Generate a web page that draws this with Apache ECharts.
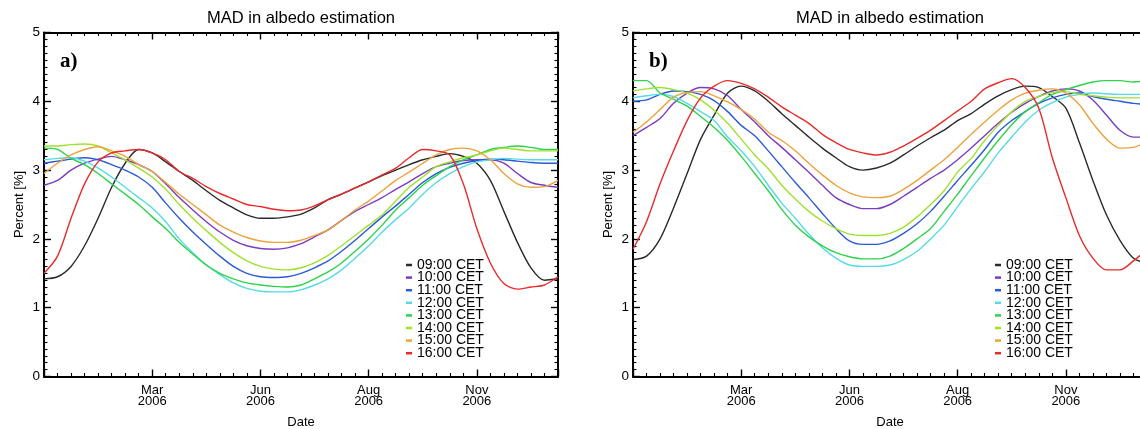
<!DOCTYPE html>
<html><head><meta charset="utf-8">
<script src="https://cdn.jsdelivr.net/npm/echarts@6.0.0/dist/echarts.min.js"></script>
<style>html,body{margin:0;padding:0;background:#fff}#c{width:1140px;height:429px}</style>
</head><body><div id="c"></div>
<script>
// x = days since start of record (axis spans 0..380), sampled every 10 days
const days = [0,10,20,30,40,50,60,70,80,90,100,110,120,130,140,150,160,170,180,190,200,210,220,230,240,250,260,270,280,290,300,310,320,330,340,350,360,370,380];
const hours = ['09:00 CET','10:00 CET','11:00 CET','12:00 CET','13:00 CET','14:00 CET','15:00 CET','16:00 CET'];
const lineColors = ['#2a2a2a','#7a3cc0','#2a5ad8','#55dbe6','#2ed24c','#9fe22e','#eda23c','#ea2a2a'];
const xTickValues = [80,160,240,320];
const xTickLabels = ['Mar\n2006','Jun\n2006','Aug\n2006','Nov\n2006'];
const panelTitles = ['MAD in albedo estimation','MAD in albedo estimation'];
const panelTags = ['a)','b)'];

// panel a)
const a09 = [1.42,1.45,1.6,1.9,2.3,2.75,3.1,3.3,3.25,3.12,2.98,2.85,2.7,2.56,2.45,2.35,2.3,2.3,2.32,2.36,2.45,2.57,2.65,2.74,2.83,2.92,3.0,3.08,3.15,3.2,3.24,3.2,3.1,2.85,2.4,1.95,1.58,1.4,1.42];
const a10 = [2.78,2.85,3.0,3.1,3.16,3.2,3.15,3.08,2.98,2.8,2.6,2.42,2.25,2.1,1.98,1.9,1.86,1.85,1.87,1.93,2.03,2.13,2.27,2.4,2.5,2.6,2.72,2.83,2.95,3.05,3.1,3.14,3.15,3.15,3.1,2.95,2.82,2.78,2.75];
const a11 = [3.1,3.13,3.16,3.18,3.15,3.08,3.0,2.9,2.75,2.52,2.3,2.1,1.92,1.75,1.6,1.5,1.45,1.44,1.45,1.5,1.58,1.68,1.82,1.98,2.15,2.32,2.48,2.65,2.82,2.95,3.04,3.1,3.14,3.16,3.15,3.13,3.11,3.1,3.1];
const a12 = [3.15,3.17,3.18,3.13,3.03,2.9,2.75,2.6,2.45,2.25,2.0,1.8,1.62,1.48,1.36,1.28,1.24,1.23,1.23,1.26,1.33,1.42,1.55,1.72,1.9,2.1,2.28,2.45,2.65,2.82,2.95,3.05,3.12,3.15,3.17,3.16,3.15,3.15,3.15];
const a13 = [3.32,3.3,3.17,3.08,2.95,2.8,2.65,2.5,2.32,2.15,1.95,1.78,1.62,1.5,1.42,1.36,1.33,1.31,1.3,1.33,1.42,1.52,1.65,1.82,2.0,2.2,2.42,2.6,2.78,2.92,3.05,3.15,3.22,3.3,3.33,3.35,3.33,3.3,3.3];
const a14 = [3.35,3.35,3.37,3.38,3.35,3.25,3.15,3.03,2.9,2.72,2.5,2.3,2.12,1.95,1.8,1.68,1.6,1.56,1.55,1.58,1.65,1.76,1.9,2.05,2.2,2.35,2.55,2.75,2.9,3.05,3.12,3.18,3.22,3.28,3.32,3.3,3.28,3.28,3.28];
const a15 = [2.95,3.1,3.22,3.3,3.34,3.28,3.2,3.08,2.98,2.82,2.65,2.5,2.35,2.2,2.1,2.02,1.97,1.95,1.95,1.98,2.05,2.13,2.27,2.42,2.55,2.7,2.85,2.97,3.1,3.22,3.3,3.32,3.28,3.15,2.95,2.8,2.75,2.76,2.85];
const a16 = [1.5,1.75,2.3,2.8,3.12,3.25,3.28,3.3,3.25,3.15,2.98,2.88,2.76,2.66,2.58,2.5,2.47,2.43,2.41,2.42,2.48,2.57,2.65,2.74,2.83,2.93,3.03,3.18,3.3,3.28,3.22,2.8,2.15,1.65,1.35,1.27,1.3,1.33,1.45];

// panel b)
const b09 = [1.7,1.75,2.0,2.45,2.95,3.45,3.8,4.12,4.22,4.15,4.0,3.82,3.65,3.48,3.32,3.18,3.05,3.0,3.03,3.1,3.22,3.35,3.47,3.58,3.72,3.82,3.96,4.08,4.17,4.22,4.2,4.07,3.9,3.4,2.85,2.35,1.98,1.72,1.65];
const b10 = [3.5,3.62,3.75,3.97,4.12,4.2,4.18,4.08,3.88,3.7,3.5,3.33,3.15,2.97,2.78,2.6,2.5,2.44,2.44,2.5,2.62,2.75,2.88,3.0,3.15,3.32,3.5,3.68,3.84,3.97,4.07,4.15,4.18,4.15,4.02,3.8,3.58,3.48,3.48];
const b11 = [4.0,4.02,4.1,4.15,4.14,4.1,4.01,3.85,3.65,3.5,3.28,3.05,2.82,2.6,2.37,2.15,1.97,1.92,1.92,1.97,2.08,2.22,2.4,2.62,2.85,3.07,3.3,3.55,3.72,3.85,3.97,4.05,4.1,4.12,4.07,4.03,4.0,3.97,3.95];
const b12 = [4.05,4.08,4.1,4.07,3.97,3.85,3.72,3.48,3.28,3.05,2.78,2.52,2.3,2.07,1.87,1.72,1.62,1.6,1.6,1.62,1.7,1.82,2.0,2.2,2.47,2.73,2.98,3.25,3.48,3.7,3.87,3.98,4.06,4.1,4.12,4.11,4.1,4.1,4.1];
const b13 = [4.3,4.3,4.12,4.03,3.93,3.78,3.62,3.43,3.2,2.95,2.7,2.43,2.2,2.03,1.9,1.8,1.74,1.71,1.71,1.75,1.86,2.0,2.15,2.4,2.65,2.92,3.18,3.43,3.66,3.85,3.98,4.1,4.17,4.23,4.28,4.3,4.3,4.28,4.3];
const b14 = [4.15,4.18,4.2,4.17,4.12,4.02,3.87,3.68,3.45,3.22,3.02,2.78,2.58,2.4,2.26,2.15,2.07,2.05,2.05,2.08,2.17,2.32,2.5,2.7,2.97,3.17,3.43,3.65,3.85,4.0,4.07,4.13,4.14,4.1,4.08,4.06,4.05,4.05,4.05];
const b15 = [3.55,3.7,3.88,4.06,4.13,4.14,4.08,3.99,3.88,3.74,3.55,3.43,3.28,3.1,2.93,2.78,2.67,2.61,2.6,2.62,2.72,2.85,3.0,3.15,3.33,3.52,3.7,3.87,4.02,4.12,4.16,4.18,4.12,3.95,3.68,3.45,3.32,3.33,3.42];
const b16 = [1.85,2.25,2.8,3.28,3.72,4.05,4.22,4.3,4.26,4.18,4.06,3.92,3.8,3.68,3.52,3.4,3.3,3.25,3.22,3.26,3.35,3.46,3.58,3.72,3.86,4.0,4.18,4.27,4.33,4.2,3.9,3.18,2.6,2.05,1.72,1.55,1.55,1.68,1.85];

const panelSeries = [[a09,a10,a11,a12,a13,a14,a15,a16],[b09,b10,b11,b12,b13,b14,b15,b16]];

const FONT = 'Liberation Sans, Arial, sans-serif';
const gridLefts = [44, 633];
const G = {top: 32.5, width: 514, height: 344};

const lineStyleAxis = {color:'#000', width:2};
const tickStyle = {show:true, inside:true, length:7, lineStyle:{color:'#000', width:1.4}};
function xMinor(){ return {show:true, splitNumber:8, length:3.5, lineStyle:{color:'#000', width:1.1}}; }
function yMinor(){ return {show:true, splitNumber:10, length:3.5, lineStyle:{color:'#000', width:1.1}}; }

const grids = [], xAxes = [], yAxes = [], series = [], titles = [], legends = [];
gridLefts.forEach((gl, p) => {
  grids.push({left: gl, top: G.top, width: G.width, height: G.height, containLabel:false, outerBoundsMode:'none'});
  const xBase = {gridIndex:p, type:'value', min:0, max:380, interval:80,
    axisLine:{show:true, onZero:false, lineStyle:lineStyleAxis},
    axisTick:tickStyle, minorTick:xMinor(), splitLine:{show:false}};
  xAxes.push(Object.assign({}, xBase, {position:'bottom',
    name:'Date', nameLocation:'middle', nameGap:39,
    nameTextStyle:{fontFamily:FONT, fontSize:13, color:'#000'},
    axisLabel:{show:true, margin:8, fontFamily:FONT, fontSize:13, lineHeight:11.5, color:'#000',
      formatter: v => { const i = xTickValues.indexOf(v); return i >= 0 ? xTickLabels[i] : ''; }}}));
  xAxes.push(Object.assign({}, xBase, {position:'top', axisLabel:{show:false}}));
  const yBase = {gridIndex:p, type:'value', min:0, max:5, interval:1,
    axisLine:{show:true, onZero:false, lineStyle:lineStyleAxis},
    axisTick:tickStyle, minorTick:yMinor(), splitLine:{show:false}};
  yAxes.push(Object.assign({}, yBase, {position:'left',
    name:'Percent [%]', nameLocation:'middle', nameGap:18,
    nameTextStyle:{fontFamily:FONT, fontSize:13, color:'#000'},
    axisLabel:{show:true, margin:4, fontFamily:FONT, fontSize:13.5, color:'#000'}}));
  yAxes.push(Object.assign({}, yBase, {position:'right', axisLabel:{show:false}}));

  panelSeries[p].forEach((arr, k) => {
    series.push({type:'line', name:hours[k], xAxisIndex:2*p, yAxisIndex:2*p,
      data: days.map((d, i) => [d, arr[i]]), showSymbol:false, smooth:0.3,
      lineStyle:{color:lineColors[k], width:1.4}, itemStyle:{color:lineColors[k]},
      clip:true, silent:true});
  });

  titles.push({text:panelTitles[p], left: gl + G.width/2, top: 10, textAlign:'center', padding:0,
    textStyle:{fontFamily:FONT, fontSize:16.5, fontWeight:'normal', color:'#000'}});
  titles.push({text:panelTags[p], left: gl + 16, top: 51, padding:0,
    textStyle:{fontFamily:'Liberation Serif, Times New Roman, serif', fontSize:21, fontWeight:'bold', color:'#000'}});
  legends.push({data:hours, orient:'vertical', left: gl + 362, top: 258, padding:0,
    icon:'rect', itemWidth:6, itemHeight:2.5, itemGap:-1.4, selectedMode:false,
    textStyle:{fontFamily:FONT, fontSize:14, lineHeight:11.6, color:'#000'}});
});

const chart = echarts.init(document.getElementById('c'), null, {renderer:'canvas'});
chart.setOption({
  animation:false, backgroundColor:'#fff', color: lineColors,
  title: titles, legend: legends, grid: grids, xAxis: xAxes, yAxis: yAxes, series: series
});
</script></body></html>
